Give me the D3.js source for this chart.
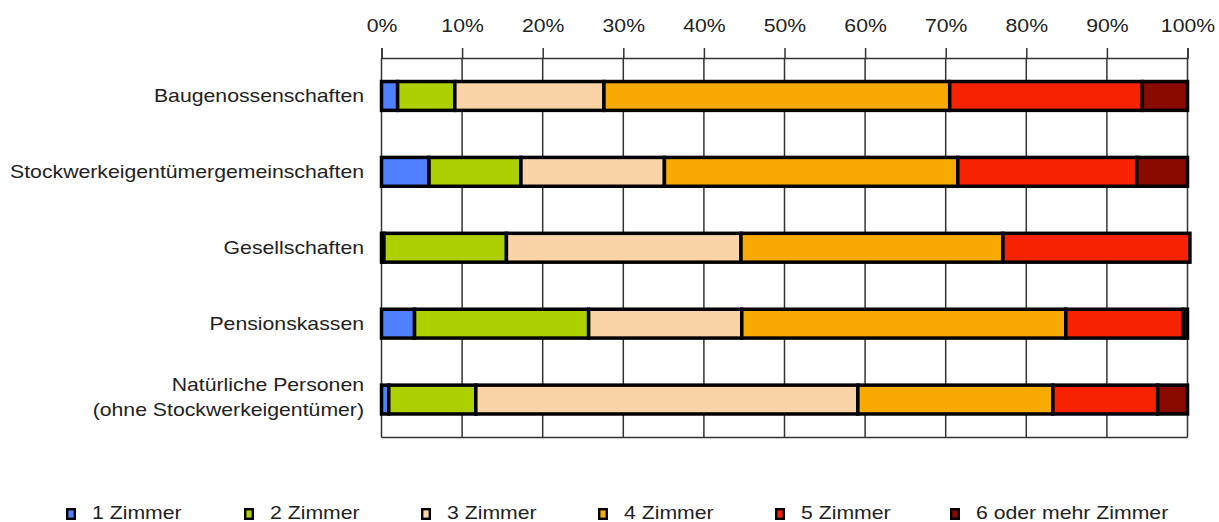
<!DOCTYPE html>
<html>
<head>
<meta charset="utf-8">
<script src="https://cdn.jsdelivr.net/npm/d3@7"></script>
<style>
  body { margin: 0; background: #fff; }
  svg text { font-family: "Liberation Sans", Arial, sans-serif; fill: #222; font-size: 18px; }
</style>
</head>
<body>
<div id="app"></div>
<script>
// categories (top to bottom)
const categories = [
  "Baugenossenschaften",
  "Stockwerkeigentümergemeinschaften",
  "Gesellschaften",
  "Pensionskassen",
  "Natürliche Personen\n(ohne Stockwerkeigentümer)"
];
const seriesNames = ["1 Zimmer", "2 Zimmer", "3 Zimmer", "4 Zimmer", "5 Zimmer", "6 oder mehr Zimmer"];
const seriesColors = ["#4f81ff", "#add100", "#fad4a6", "#f7aa00", "#f72300", "#8b0a00"];

// shares in percent, one array per room count (same order as categories)
const zimmer1 = [2.0, 5.9, 0.3, 4.1, 0.9];
const zimmer2 = [7.1, 11.4, 15.2, 21.6, 10.8];
const zimmer3 = [18.5, 17.8, 29.1, 19.0, 47.4];
const zimmer4 = [42.9, 36.4, 32.5, 40.2, 24.2];
const zimmer5 = [23.9, 22.2, 23.2, 14.6, 13.0];
const zimmer6 = [5.6, 6.3, 0.0, 0.5, 3.7];

const tickValues = [0, 10, 20, 30, 40, 50, 60, 70, 80, 90, 100];

const allSeries = [zimmer1, zimmer2, zimmer3, zimmer4, zimmer5, zimmer6];
const rows = categories.map((c, i) => {
  const r = { cat: c };
  seriesNames.forEach((s, j) => (r[s] = allSeries[j][i]));
  return r;
});

const w = 1219;
const h = 522;
const mLeft = 381.5, mRight = 1187.5, mTop = 58, mBottom = 437.5;
const stretch = "scale(1.18,1)"; // the source text is drawn a bit wide

const svg = d3.select("#app").append("svg").attr("width", w).attr("height", h);

const x = d3.scaleLinear().domain([0, 100]).range([mLeft, mRight]);
const y = d3.scaleBand().domain(categories).range([mTop, mBottom])
  .paddingInner(0.62).paddingOuter(0.31);

//gridlines
svg.append("g")
  .selectAll("line")
  .data(tickValues)
  .enter()
  .append("line")
  .attr("x1", (d) => x(d))
  .attr("x2", (d) => x(d))
  .attr("y1", mTop)
  .attr("y2", mBottom)
  .attr("stroke", "#333")
  .attr("stroke-width", 1.5);

svg.append("line")
  .attr("x1", mLeft).attr("x2", mRight)
  .attr("y1", mBottom).attr("y2", mBottom)
  .attr("stroke", "#333").attr("stroke-width", 1.5);

//top axis
const xAxis = d3.axisTop(x).tickValues(tickValues).tickFormat((d) => d + "%")
  .tickSize(10).tickPadding(16);
const gx = svg.append("g").attr("transform", `translate(0,${mTop})`).call(xAxis);
gx.selectAll("path, line").attr("stroke", "#333").attr("stroke-width", 1.5);
gx.selectAll("text")
  .attr("font-size", null).attr("font-family", null)
  .attr("fill", "#222")
  .attr("transform", stretch);

//stacked bars
const stack = d3.stack().keys(seriesNames);
const layers = stack(rows);

svg.append("g")
  .selectAll("g")
  .data(layers)
  .enter()
  .append("g")
  .attr("fill", (d, i) => seriesColors[i])
  .selectAll("rect")
  .data((d) => d)
  .enter()
  .append("rect")
  .attr("x", (d) => x(d[0]))
  .attr("y", (d) => y(d.data.cat))
  .attr("width", (d) => x(d[1]) - x(d[0]))
  .attr("height", y.bandwidth())
  .attr("stroke", "#000")
  .attr("stroke-width", 3.5);

//category labels
const labels = svg.append("g")
  .selectAll("text")
  .data(categories)
  .enter()
  .append("text")
  .attr("text-anchor", "end")
  .attr("transform", (d) => `translate(364,${y(d) + y.bandwidth() / 2}) ${stretch}`);

labels.each(function (d) {
  const lines = d.split("\n");
  const el = d3.select(this);
  lines.forEach((l, i) => {
    el.append("tspan")
      .attr("x", 0)
      .attr("dy", i === 0 ? (lines.length > 1 ? "-0.5em" : "0.35em") : "1.4em")
      .text(l);
  });
});

//legend
const legendX = [66, 244, 421, 598, 775, 950];
const legend = svg.append("g")
  .selectAll("g")
  .data(seriesNames)
  .enter()
  .append("g")
  .attr("transform", (d, i) => `translate(${legendX[i]},508)`);

legend.append("rect")
  .attr("x", 1.2).attr("y", 1.2)
  .attr("width", 7.6).attr("height", 9.6)
  .attr("fill", (d, i) => seriesColors[i])
  .attr("stroke", "#000")
  .attr("stroke-width", 2.4);

legend.append("text")
  .attr("transform", `translate(26,11) ${stretch}`)
  .text((d) => d);
</script>
</body>
</html>
